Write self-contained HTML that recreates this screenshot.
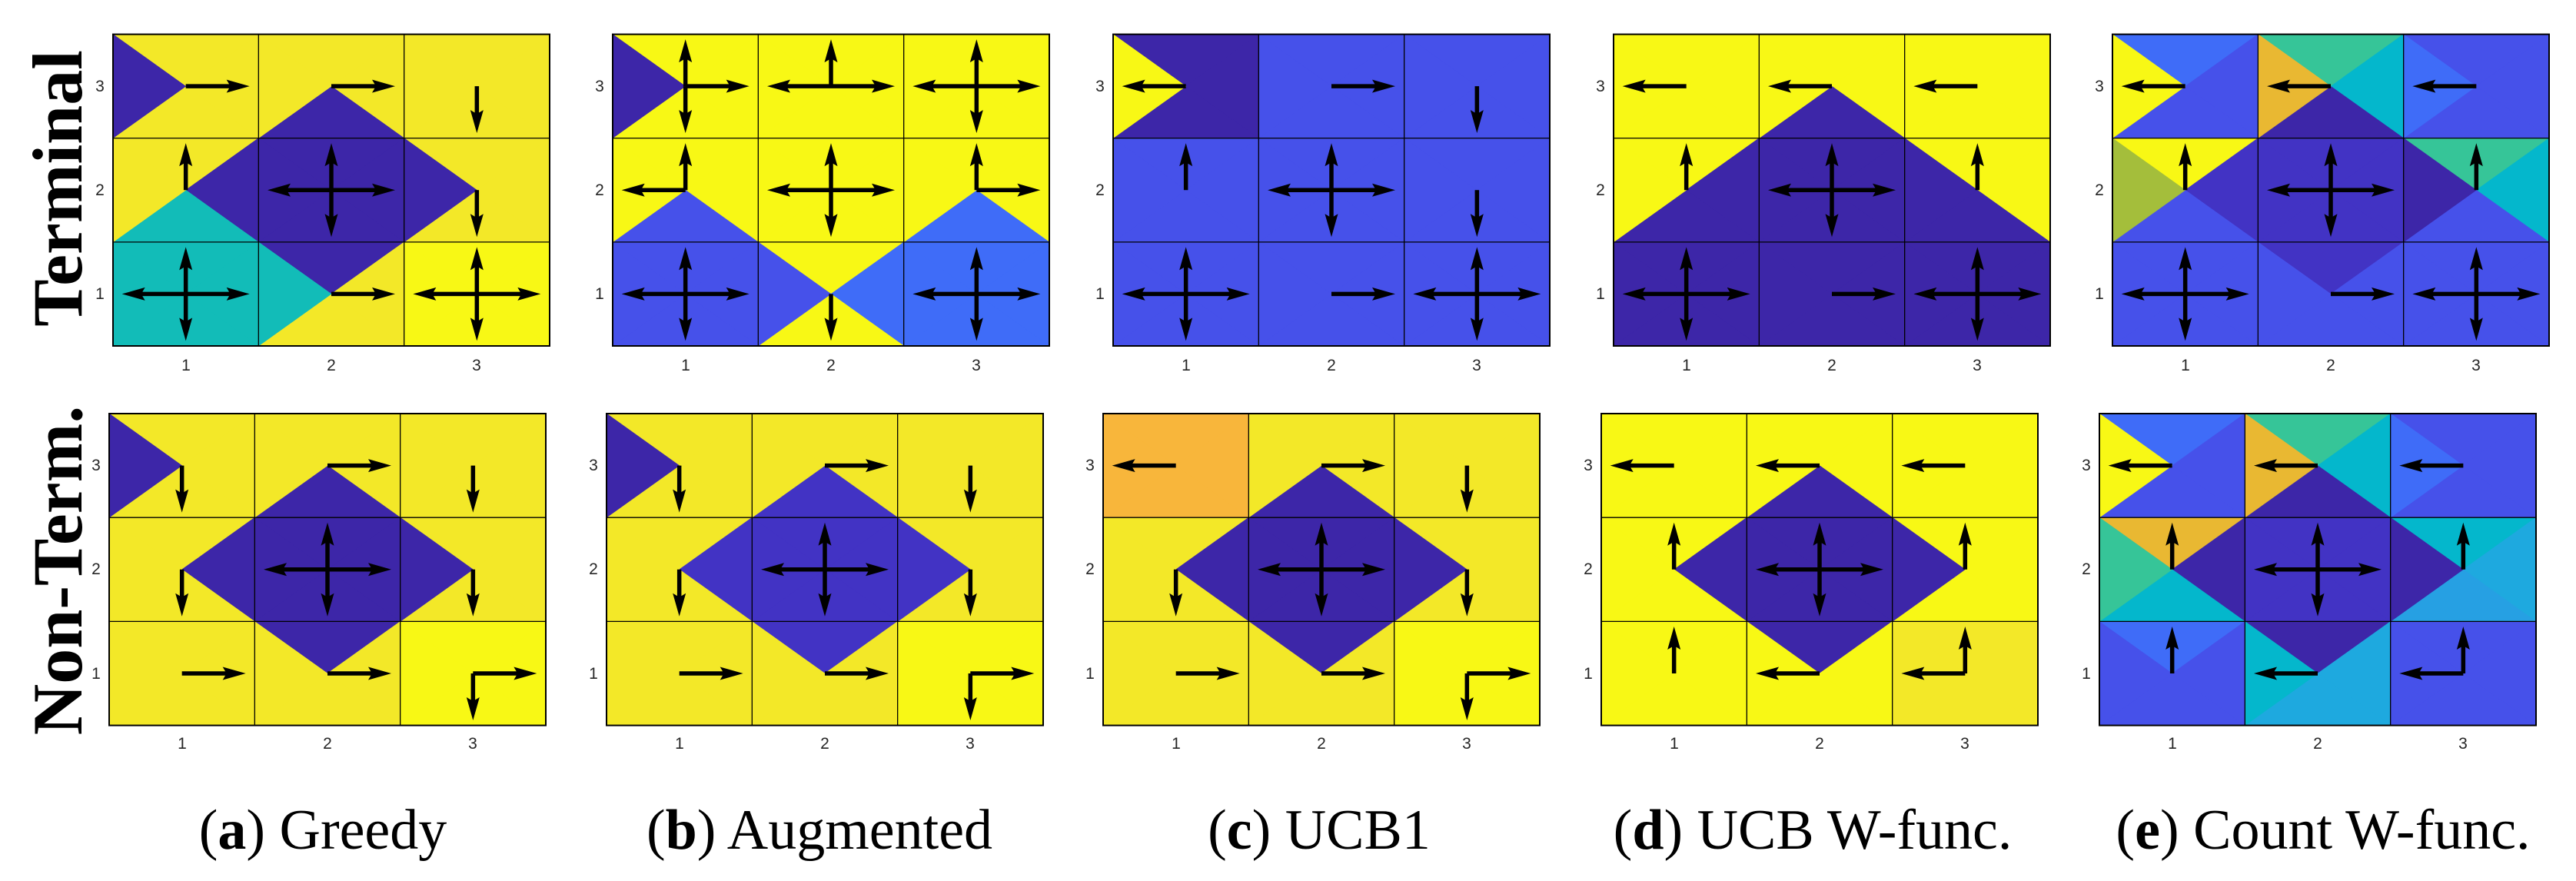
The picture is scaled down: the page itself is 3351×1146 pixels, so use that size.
<!DOCTYPE html>
<html><head><meta charset="utf-8">
<style>
html,body{margin:0;padding:0;background:#fff;}
svg{display:block;}
.t{font-family:"Liberation Sans",sans-serif;font-size:21px;fill:#262626;text-anchor:middle;}
.cap{font-family:"Liberation Serif",serif;font-size:74px;fill:#000;text-anchor:middle;}
.row{font-family:"Liberation Serif",serif;font-size:92px;font-weight:bold;fill:#000;text-anchor:middle;}
</style></head>
<body>
<svg id="s" width="3351" height="1146" viewBox="0 0 3351 1146" xmlns="http://www.w3.org/2000/svg">
<rect width="3351" height="1146" fill="#fff"/>
<g id="shapes"></g>
<text class="row" transform="translate(106,245) rotate(-90)">Terminal</text>
<text class="row" transform="translate(106,742) rotate(-90)">Non-Term.</text>
<g class="t">
<text class="t" x="130" y="119">3</text><text class="t" x="130" y="254">2</text><text class="t" x="130" y="389">1</text>
<text class="t" x="780" y="119">3</text><text class="t" x="780" y="254">2</text><text class="t" x="780" y="389">1</text>
<text class="t" x="1431" y="119">3</text><text class="t" x="1431" y="254">2</text><text class="t" x="1431" y="389">1</text>
<text class="t" x="2082" y="119">3</text><text class="t" x="2082" y="254">2</text><text class="t" x="2082" y="389">1</text>
<text class="t" x="2731" y="119">3</text><text class="t" x="2731" y="254">2</text><text class="t" x="2731" y="389">1</text>
<text class="t" x="242" y="482">1</text><text class="t" x="431" y="482">2</text><text class="t" x="620" y="482">3</text>
<text class="t" x="892" y="482">1</text><text class="t" x="1081" y="482">2</text><text class="t" x="1270" y="482">3</text>
<text class="t" x="1543" y="482">1</text><text class="t" x="1732" y="482">2</text><text class="t" x="1921" y="482">3</text>
<text class="t" x="2194" y="482">1</text><text class="t" x="2383" y="482">2</text><text class="t" x="2572" y="482">3</text>
<text class="t" x="2843" y="482">1</text><text class="t" x="3032" y="482">2</text><text class="t" x="3221" y="482">3</text>
<text class="t" x="125" y="612">3</text><text class="t" x="125" y="747">2</text><text class="t" x="125" y="883">1</text>
<text class="t" x="772" y="612">3</text><text class="t" x="772" y="747">2</text><text class="t" x="772" y="883">1</text>
<text class="t" x="1418" y="612">3</text><text class="t" x="1418" y="747">2</text><text class="t" x="1418" y="883">1</text>
<text class="t" x="2066" y="612">3</text><text class="t" x="2066" y="747">2</text><text class="t" x="2066" y="883">1</text>
<text class="t" x="2714" y="612">3</text><text class="t" x="2714" y="747">2</text><text class="t" x="2714" y="883">1</text>
<text class="t" x="237" y="974">1</text><text class="t" x="426" y="974">2</text><text class="t" x="615" y="974">3</text>
<text class="t" x="884" y="974">1</text><text class="t" x="1073" y="974">2</text><text class="t" x="1262" y="974">3</text>
<text class="t" x="1530" y="974">1</text><text class="t" x="1719" y="974">2</text><text class="t" x="1908" y="974">3</text>
<text class="t" x="2178" y="974">1</text><text class="t" x="2367" y="974">2</text><text class="t" x="2556" y="974">3</text>
<text class="t" x="2826" y="974">1</text><text class="t" x="3015" y="974">2</text><text class="t" x="3204" y="974">3</text>
</g>
<text class="cap" x="420" y="1104">(<tspan font-weight="bold">a</tspan>) Greedy</text>
<text class="cap" x="1066" y="1104">(<tspan font-weight="bold">b</tspan>) Augmented</text>
<text class="cap" x="1716" y="1104">(<tspan font-weight="bold">c</tspan>) UCB1</text>
<text class="cap" x="2358" y="1104">(<tspan font-weight="bold">d</tspan>) UCB W-func.</text>
<text class="cap" x="3022" y="1104">(<tspan font-weight="bold">e</tspan>) Count W-func.</text>
</svg>
<script>
(function(){
var NS="http://www.w3.org/2000/svg";
var g=document.getElementById("shapes");
var C={Y:'#f3e828',B:'#f8f815',P:'#3d26a8',R:'#4233c4',C:'#12bcb8',M:'#4651ea',L:'#3f6cf8',O:'#e9b832',T:'#36c598',K:'#04b7cc',S:'#1ea9df',U:'#26a0e3',V:'#a4be3b',Q:'#f8b63b'};
function el(n,a){var e=document.createElementNS(NS,n);for(var k in a)e.setAttribute(k,a[k]);g.appendChild(e);return e;}
function poly(pts,f){el("polygon",{points:pts.map(function(p){return p[0].toFixed(1)+","+p[1].toFixed(1)}).join(" "),fill:f,stroke:f,"stroke-width":"0.6"});}
function arrow(cx,cy,d){
  var dx=0,dy=0,len;
  if(d=='R'){dx=1;len=83;}else if(d=='L'){dx=-1;len=83;}else if(d=='U'){dy=-1;len=61;}else{dy=1;len=61;}
  var tx=cx+dx*len, ty=cy+dy*len;
  var hl=30, hw=8.5;
  var bx=tx-dx*hl, by=ty-dy*hl;
  el("line",{x1:cx,y1:cy,x2:tx-dx*12,y2:ty-dy*12,stroke:"#000","stroke-width":"5.5"});
  var px=-dy, py=dx;
  var nx=tx-dx*(hl-5), ny=ty-dy*(hl-5);
  el("polygon",{points:[tx+","+ty,(bx+px*hw)+","+(by+py*hw),nx+","+ny,(bx-px*hw)+","+(by-py*hw)].join(" "),fill:"#000"});
}
function panel(x0,y0,h,spec){
  var cw=568/3, ch=h/3, i, j;
  for(j=0;j<3;j++)for(i=0;i<3;i++){
    var s=spec[j*3+i].split(":"), col=s[0];
    if(col.length==1)col=col+col+col+col;
    var x=x0+i*cw, y=y0+j*ch, cx=x+cw/2, cy=y+ch/2;
    poly([[x,y],[x+cw,y],[cx,cy]],C[col[0]]);
    poly([[x+cw,y],[x+cw,y+ch],[cx,cy]],C[col[1]]);
    poly([[x+cw,y+ch],[x,y+ch],[cx,cy]],C[col[2]]);
    poly([[x,y+ch],[x,y],[cx,cy]],C[col[3]]);
  }
  for(i=1;i<3;i++){
    el("line",{x1:x0+i*cw,y1:y0,x2:x0+i*cw,y2:y0+h,stroke:"#000","stroke-width":"1.3"});
    el("line",{x1:x0,y1:y0+i*ch,x2:x0+568,y2:y0+i*ch,stroke:"#000","stroke-width":"1.3"});
  }
  el("rect",{x:x0,y:y0,width:568,height:h,fill:"none",stroke:"#000","stroke-width":"2"});
  for(j=0;j<3;j++)for(i=0;i<3;i++){
    var a=spec[j*3+i].split(":")[1]||"";
    var cx2=x0+i*cw+cw/2, cy2=y0+j*ch+ch/2;
    for(var k=0;k<a.length;k++)arrow(cx2,cy2,a[k]);
  }
}
var TH=405.4, BH=405.6, TY=44.6, BY=538;
panel(147,TY,TH,["YYYP:R","YYPY:R","Y:D","YPCY:U","P:UDLR","YYYP:D","C:UDLR","PYYC:R","B:UDLR"]);
panel(797,TY,TH,["BBBP:UDR","B:ULR","B:UDLR","BBMB:UL","B:UDLR","BBLB:UR","M:UDLR","BLBM:D","L:UDLR"]);
panel(1448,TY,TH,["PPPB:L","M:R","M:D","M:U","M:UDLR","M:D","M:UDLR","M:R","M:UDLR"]);
panel(2099,TY,TH,["B:L","BBPB:L","B:L","BPPB:U","P:UDLR","BBPP:U","P:UDLR","P:R","P:UDLR"]);
panel(2748,TY,TH,["LMMB:L","TKPO:L","MMML:L","BRMV:U","R:UDLR","TKMP:U","M:UDLR","RMMM:R","M:UDLR"]);
panel(142,BY,BH,["YYYP:D","YYPY:R","Y:D","YPYY:D","P:UDLR","YYYP:D","Y:R","PYYY:R","B:RD"]);
panel(789,BY,BH,["YYYP:D","YYRY:R","Y:D","YRYY:D","R:UDLR","YYYR:D","Y:R","RYYY:R","B:RD"]);
panel(1435,BY,BH,["Q:L","YYPY:R","Y:D","YPYY:D","P:UDLR","YYYP:D","Y:R","PYYY:R","B:RD"]);
panel(2083,BY,BH,["B:L","BBPB:L","B:L","BPBB:U","P:UDLR","BBBP:U","B:U","PBBB:L","Y:LU"]);
panel(2731,BY,BH,["LMMB:L","TKPO:L","MMML:L","OPKT:U","R:UDLR","KSUP:U","LMMM:U","PSSK:L","M:LU"]);
})();
</script>
</body></html>
